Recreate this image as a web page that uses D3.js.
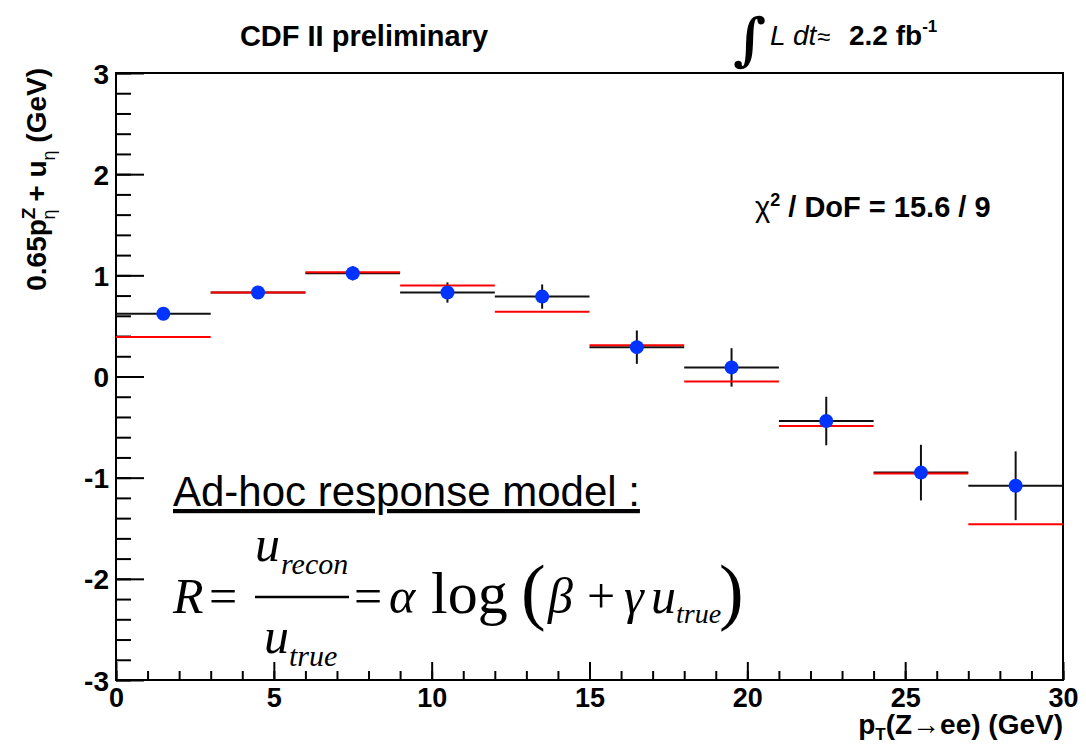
<!DOCTYPE html>
<html>
<head>
<meta charset="utf-8">
<script src="https://cdn.jsdelivr.net/npm/d3@7"></script>
<style>
  html, body { margin: 0; padding: 0; background: #ffffff; }
  svg { display: block; }
  .lbl { font-family: "Liberation Sans", Arial, sans-serif; font-weight: bold; }
  .frm { font-family: "Liberation Serif", "Times New Roman", serif; font-style: italic; }
</style>
</head>
<body>
<div id="plot-div"></div>
<script>
// bin edges of pT(Z->ee) in GeV
const binEdges = [0, 3, 6, 9, 12, 15, 18, 21, 24, 27, 30];
// data points (blue) and their errors
const dataVals = [0.62, 0.83, 1.02, 0.83, 0.79, 0.29, 0.09, -0.44, -0.95, -1.08];
const dataErrs = [0.06, 0.05, 0.07, 0.10, 0.12, 0.165, 0.19, 0.24, 0.275, 0.34];
// response model prediction (red)
const modelVals = [0.39, 0.83, 1.03, 0.90, 0.64, 0.31, -0.05, -0.49, -0.96, -1.46];
// axes
const xTickVals = [0, 5, 10, 15, 20, 25, 30];
const yTickVals = [-3, -2, -1, 0, 1, 2, 3];

const plotWidth = 1086, plotHeight = 747;
const frame = {left: 116, right: 1063, top: 73, bottom: 680};

const svg = d3.select("#plot-div")
    .append("svg")
        .attr("width", plotWidth)
        .attr("height", plotHeight);

const x = d3.scaleLinear().domain([0, 30]).range([frame.left, frame.right]);
const y = d3.scaleLinear().domain([-3, 3]).range([frame.bottom, frame.top]);

const bins = dataVals.map((v, i) => ({
    lo: binEdges[i], hi: binEdges[i + 1], v: v, e: dataErrs[i], m: modelVals[i]
}));

// minor ticks y (every 0.2)
svg.append("g")
    .attr("transform", `translate(${frame.left},0)`)
    .call(d3.axisLeft(y).ticks(30).tickSize(-15).tickFormat(""))
    .call(g => g.select(".domain").remove())
    .call(g => g.selectAll("line").attr("stroke", "#000").attr("stroke-width", 2));

// major ticks y
svg.append("g")
    .attr("transform", `translate(${frame.left},0)`)
    .call(d3.axisLeft(y).tickValues(yTickVals).tickSize(-28).tickPadding(7).tickFormat(d => String(d)))
    .call(g => g.select(".domain").remove())
    .call(g => g.selectAll("line").attr("stroke", "#000").attr("stroke-width", 2))
    .call(g => g.selectAll("text")
        .attr("class", "lbl")
        .attr("font-size", 28)
        .attr("fill", "#000")
        .attr("dy", "0.36em"));

// minor ticks x (every 1)
svg.append("g")
    .attr("transform", `translate(0,${frame.bottom})`)
    .call(d3.axisBottom(x).ticks(30).tickSize(-9).tickFormat(""))
    .call(g => g.select(".domain").remove())
    .call(g => g.selectAll("line").attr("stroke", "#000").attr("stroke-width", 2));

// major ticks x
svg.append("g")
    .attr("transform", `translate(0,${frame.bottom})`)
    .call(d3.axisBottom(x).tickValues(xTickVals).tickSize(-18).tickPadding(8).tickFormat(d => String(d)))
    .call(g => g.select(".domain").remove())
    .call(g => g.selectAll("line").attr("stroke", "#000").attr("stroke-width", 2))
    .call(g => g.selectAll("text")
        .attr("class", "lbl")
        .attr("font-size", 27)
        .attr("fill", "#000")
        .attr("dy", "0.72em"));

// frame
svg.append("rect")
    .attr("x", frame.left)
    .attr("y", frame.top)
    .attr("width", frame.right - frame.left)
    .attr("height", frame.bottom - frame.top)
    .attr("fill", "none")
    .attr("stroke", "#000")
    .attr("stroke-width", 2);

// data error bars (black)
const errG = svg.append("g").attr("stroke", "#111").attr("stroke-width", 2);
errG.selectAll(".xerr")
    .data(bins)
    .join("line")
        .attr("class", "xerr")
        .attr("x1", d => x(d.lo))
        .attr("x2", d => x(d.hi))
        .attr("y1", d => y(d.v))
        .attr("y2", d => y(d.v));
errG.selectAll(".yerr")
    .data(bins)
    .join("line")
        .attr("class", "yerr")
        .attr("x1", d => x((d.lo + d.hi) / 2))
        .attr("x2", d => x((d.lo + d.hi) / 2))
        .attr("y1", d => y(d.v - d.e))
        .attr("y2", d => y(d.v + d.e));

// model lines (red)
svg.append("g")
    .attr("stroke", "#ff0000")
    .attr("stroke-width", 2)
    .selectAll("line")
    .data(bins)
    .join("line")
        .attr("x1", d => x(d.lo))
        .attr("x2", d => x(d.hi))
        .attr("y1", d => y(d.m))
        .attr("y2", d => y(d.m));

// markers (blue)
svg.append("g")
    .attr("fill", "#0033ff")
    .selectAll("circle")
    .data(bins)
    .join("circle")
        .attr("cx", d => x((d.lo + d.hi) / 2))
        .attr("cy", d => y(d.v))
        .attr("r", 7);

// y axis title
svg.append("text")
    .attr("class", "lbl")
    .attr("transform", "translate(46,68) rotate(-90)")
    .attr("text-anchor", "end")
    .attr("font-size", 28)
    .attr("fill", "#000")
    .html('0.65p<tspan dy="-11" font-size="19">Z</tspan><tspan dx="-12" dy="20" font-size="18" font-weight="normal">η</tspan><tspan dy="-9"> + u</tspan><tspan dy="9" font-size="18" font-weight="normal">η</tspan><tspan dy="-9"> (GeV)</tspan>');

// x axis title
svg.append("text")
    .attr("class", "lbl")
    .attr("x", frame.right)
    .attr("y", 734)
    .attr("text-anchor", "end")
    .attr("font-size", 28)
    .attr("fill", "#000")
    .html('p<tspan dy="6" font-size="17">T</tspan><tspan dy="-6">(Z→ee) (GeV)</tspan>');

// header
svg.append("text")
    .attr("class", "lbl")
    .attr("x", 364)
    .attr("y", 46)
    .attr("text-anchor", "middle")
    .attr("font-size", 29)
    .attr("fill", "#000")
    .text("CDF II preliminary");

svg.append("text")
    .attr("x", 733)
    .attr("y", 59)
    .attr("font-family", "DejaVu Serif, serif")
    .attr("font-weight", "bold")
    .attr("font-size", 57)
    .attr("fill", "#000")
    .text("∫");

svg.append("text")
    .attr("y", 45)
    .attr("font-family", "Liberation Sans, Arial, sans-serif")
    .attr("font-size", 28)
    .attr("fill", "#000")
    .html('<tspan x="770" font-style="italic">L</tspan><tspan x="793" font-style="italic">dt</tspan><tspan x="817" font-size="24">≈</tspan><tspan x="849" font-weight="bold">2.2 fb</tspan><tspan dy="-13" font-size="17" font-weight="bold">-1</tspan>');

// chi2 text
svg.append("text")
    .attr("class", "lbl")
    .attr("x", 755)
    .attr("y", 217)
    .attr("font-size", 29)
    .attr("fill", "#000")
    .html('<tspan font-weight="normal">χ</tspan><tspan dy="-11" font-size="18">2</tspan><tspan dy="11"> / DoF = 15.6 / 9</tspan>');

// model annotation
svg.append("text")
    .attr("x", 173)
    .attr("y", 506)
    .attr("font-family", "Liberation Sans, Arial, sans-serif")
    .attr("font-size", 42)
    .attr("text-decoration", "underline")
    .attr("fill", "#000")
    .text("Ad-hoc response model :");

const fg = svg.append("g").attr("class", "frm").attr("fill", "#000");
fg.append("text").attr("y", 613).attr("font-size", 50)
    .html('<tspan x="173">R</tspan><tspan x="209" font-style="normal">=</tspan><tspan x="354" font-style="normal">=</tspan><tspan x="389">α</tspan><tspan x="431" font-style="normal" font-size="60">log</tspan><tspan x="548">β</tspan><tspan x="587" font-style="normal">+</tspan><tspan x="624">γ</tspan><tspan x="651">u</tspan>');
fg.append("text").attr("y", 623).attr("font-size", 28).attr("x", 676).text("true");
fg.append("text").attr("y", 616).attr("font-size", 74).attr("font-style", "normal")
    .html('<tspan x="521">(</tspan><tspan x="719">)</tspan>');
fg.append("text").attr("y", 561).attr("font-size", 50).attr("x", 255).text("u");
fg.append("text").attr("y", 574).attr("font-size", 30).attr("x", 281).text("recon");
fg.append("text").attr("y", 653).attr("font-size", 50).attr("x", 264).text("u");
fg.append("text").attr("y", 666).attr("font-size", 30).attr("x", 289).text("true");
fg.append("line")
    .attr("x1", 255).attr("x2", 349)
    .attr("y1", 597).attr("y2", 597)
    .attr("stroke", "#000").attr("stroke-width", 2.5);
</script>
</body>
</html>
